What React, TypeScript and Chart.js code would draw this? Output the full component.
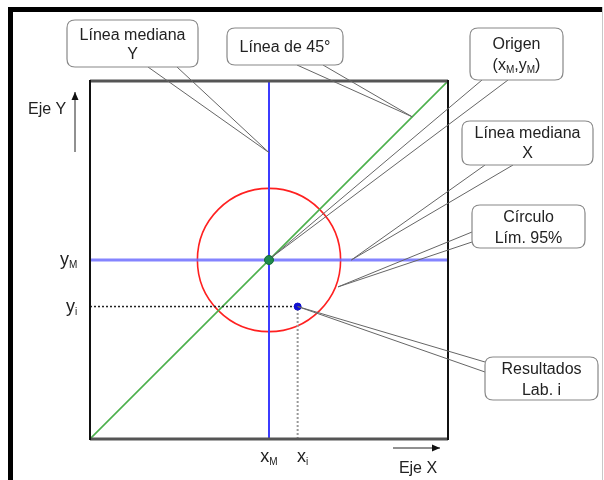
import React, { useEffect, useRef } from "react";
import { Chart, registerables } from "chart.js";

Chart.register(...registerables);

// ---- data (axis units 0..100) ----
const axisRange = [0, 100];
const diagonalX = [0, 100];
const diagonalY = [0, 100];
const medianX = 50; // x_M
const medianY = 50; // y_M
const labX = 58; // x_i
const labY = 37; // y_i
const circleRadius = 20; // 95% limit circle radius (axis units)

const FONT = '"Liberation Sans", Arial, sans-serif';

type Seg = [string, boolean];

function richWidth(ctx: CanvasRenderingContext2D, segs: Seg[], size: number, subSize: number) {
  let w = 0;
  for (const [t, sub] of segs) {
    ctx.font = `${sub ? subSize : size}px ${FONT}`;
    w += ctx.measureText(t).width;
  }
  return w;
}

function drawRich(
  ctx: CanvasRenderingContext2D,
  segs: Seg[],
  x: number,
  cy: number,
  align: "left" | "center",
  size = 16,
  subSize = 10
) {
  const w = richWidth(ctx, segs, size, subSize);
  let cx = align === "center" ? x - w / 2 : x;
  const base = cy + size * 0.36;
  ctx.textAlign = "left";
  ctx.textBaseline = "alphabetic";
  for (const [t, sub] of segs) {
    ctx.font = `${sub ? subSize : size}px ${FONT}`;
    ctx.fillText(t, cx, sub ? base + 3 : base);
    cx += ctx.measureText(t).width;
  }
}

type Callout = {
  lines: Seg[][];
  lineY: number[];
  box: [number, number, number, number];
  base: [number, number][];
  tip: { x: number; y: number };
};

const callouts: Callout[] = [
  {
    lines: [[["Línea mediana", false]], [["Y", false]]],
    lineY: [34, 53],
    box: [67, 20, 131, 47],
    base: [[148, 67], [177, 67]],
    tip: { x: medianX, y: 80 },
  },
  {
    lines: [[["Línea de 45°", false]]],
    lineY: [46],
    box: [227, 28, 116, 37],
    base: [[297, 65], [323, 65]],
    tip: { x: 90, y: 90 },
  },
  {
    lines: [
      [["Origen", false]],
      [["(x", false], ["M", true], [",y", false], ["M", true], [")", false]],
    ],
    lineY: [43, 64],
    box: [470, 28, 93, 52],
    base: [[482, 80], [508, 80]],
    tip: { x: medianX + 0.8, y: medianY + 0.8 },
  },
  {
    lines: [[["Línea mediana", false]], [["X", false]]],
    lineY: [132, 152],
    box: [462, 121, 131, 44],
    base: [[485, 165], [513, 165]],
    tip: { x: 73, y: medianY },
  },
  {
    lines: [[["Círculo", false]], [["Lím. 95%", false]]],
    lineY: [216, 237],
    box: [472, 205, 113, 43],
    base: [[472, 232], [472, 242]],
    tip: { x: 69.3, y: 42.5 },
  },
  {
    lines: [[["Resultados", false]], [["Lab. i", false]]],
    lineY: [368, 389],
    box: [485, 357, 113, 43],
    base: [[485, 362], [485, 372]],
    tip: { x: labX, y: labY },
  },
];

function roundRect(ctx: CanvasRenderingContext2D, x: number, y: number, w: number, h: number, r: number) {
  ctx.beginPath();
  ctx.moveTo(x + r, y);
  ctx.lineTo(x + w - r, y);
  ctx.quadraticCurveTo(x + w, y, x + w, y + r);
  ctx.lineTo(x + w, y + h - r);
  ctx.quadraticCurveTo(x + w, y + h, x + w - r, y + h);
  ctx.lineTo(x + r, y + h);
  ctx.quadraticCurveTo(x, y + h, x, y + h - r);
  ctx.lineTo(x, y + r);
  ctx.quadraticCurveTo(x, y, x + r, y);
  ctx.closePath();
}

function arrow(ctx: CanvasRenderingContext2D, x1: number, y1: number, x2: number, y2: number) {
  ctx.save();
  ctx.strokeStyle = "#222";
  ctx.fillStyle = "#111";
  ctx.lineWidth = 1;
  ctx.beginPath();
  ctx.moveTo(x1, y1);
  ctx.lineTo(x2, y2);
  ctx.stroke();
  const a = Math.atan2(y2 - y1, x2 - x1);
  const L = 8, W = 3.5;
  ctx.beginPath();
  ctx.moveTo(x2, y2);
  ctx.lineTo(x2 - L * Math.cos(a) + W * Math.sin(a), y2 - L * Math.sin(a) - W * Math.cos(a));
  ctx.lineTo(x2 - L * Math.cos(a) - W * Math.sin(a), y2 - L * Math.sin(a) + W * Math.cos(a));
  ctx.closePath();
  ctx.fill();
  ctx.restore();
}

const overlay = {
  id: "overlay",
  beforeDraw(chart: any) {
    const ctx: CanvasRenderingContext2D = chart.ctx;
    ctx.save();
    ctx.fillStyle = "#ffffff";
    ctx.fillRect(0, 0, chart.width, chart.height);
    // outer frame
    ctx.fillStyle = "#000";
    ctx.fillRect(8, 7, 595, 5);
    ctx.fillRect(8, 7, 5, 473);
    ctx.fillStyle = "#c8c8c8";
    ctx.fillRect(602, 7, 1, 473);
    ctx.restore();
  },
  beforeDatasetsDraw(chart: any) {
    const ctx: CanvasRenderingContext2D = chart.ctx;
    const xs = chart.scales.x, ys = chart.scales.y;
    const cx = xs.getPixelForValue(medianX);
    const cy = ys.getPixelForValue(medianY);
    const rx = xs.getPixelForValue(medianX + circleRadius) - cx;
    const ry = cy - ys.getPixelForValue(medianY + circleRadius);
    ctx.save();
    ctx.strokeStyle = "#ff2020";
    ctx.lineWidth = 1.6;
    ctx.beginPath();
    ctx.ellipse(cx, cy, rx, ry, 0, 0, Math.PI * 2);
    ctx.stroke();
    ctx.restore();
  },
  afterDatasetsDraw(chart: any) {
    const ctx: CanvasRenderingContext2D = chart.ctx;
    const xs = chart.scales.x, ys = chart.scales.y;
    const { left, right, top, bottom } = chart.chartArea;
    ctx.save();
    // plot border
    ctx.strokeStyle = "#555";
    ctx.lineWidth = 3;
    ctx.beginPath();
    ctx.moveTo(left, top);
    ctx.lineTo(right, top);
    ctx.moveTo(left, bottom);
    ctx.lineTo(right, bottom);
    ctx.stroke();
    ctx.strokeStyle = "#111";
    ctx.lineWidth = 2;
    ctx.beginPath();
    ctx.moveTo(left, top - 1);
    ctx.lineTo(left, bottom + 1);
    ctx.moveTo(right, top - 1);
    ctx.lineTo(right, bottom + 1);
    ctx.stroke();

    // axis labels
    ctx.fillStyle = "#222";
    drawRich(ctx, [["Eje Y", false]], 28, 108, "left");
    arrow(ctx, 75, 152, 75, 92);
    drawRich(ctx, [["y", false], ["M", true]], 60, ys.getPixelForValue(medianY) - 1, "left", 18, 10);
    drawRich(ctx, [["y", false], ["i", true]], 66, ys.getPixelForValue(labY) - 1, "left", 18, 10);
    drawRich(ctx, [["x", false], ["M", true]], xs.getPixelForValue(medianX), 456, "center", 18, 10);
    drawRich(ctx, [["x", false], ["i", true]], xs.getPixelForValue(labX) + 5, 456, "center", 18, 10);
    arrow(ctx, 393, 448, 440, 448);
    drawRich(ctx, [["Eje X", false]], 418, 467, "center");

    // callouts
    for (const c of callouts) {
      const tx = xs.getPixelForValue(c.tip.x);
      const ty = ys.getPixelForValue(c.tip.y);
      ctx.strokeStyle = "#666";
      ctx.lineWidth = 1;
      ctx.beginPath();
      for (const [bx, by] of c.base) {
        ctx.moveTo(bx, by);
        ctx.lineTo(tx, ty);
      }
      ctx.stroke();
      const [x, y, w, h] = c.box;
      ctx.fillStyle = "#fff";
      roundRect(ctx, x, y, w, h, 8);
      ctx.fill();
      ctx.strokeStyle = "#888";
      ctx.lineWidth = 1.2;
      ctx.stroke();
      ctx.fillStyle = "#222";
      c.lines.forEach((segs, i) => {
        drawRich(ctx, segs, x + w / 2, c.lineY[i], "center", 16, 10);
      });
    }
    ctx.restore();
  },
};

export default function App() {
  const ref = useRef<HTMLCanvasElement>(null);
  useEffect(() => {
    document.body.style.margin = "0";
    const pts = (xs: number[], ys: number[]) => xs.map((x, i) => ({ x, y: ys[i] }));
    const chart = new Chart(ref.current as HTMLCanvasElement, {
      type: "scatter",
      data: {
        datasets: [
          {
            label: "Resultados Lab. i",
            data: [{ x: labX, y: labY }],
            pointRadius: 3.5,
            backgroundColor: "#1010d0",
            borderColor: "#1010d0",
            order: 0,
          },
          {
            label: "Origen",
            data: [{ x: medianX, y: medianY }],
            pointRadius: 4.5,
            backgroundColor: "#1f8a4c",
            borderColor: "#146a36",
            borderWidth: 1,
            order: 1,
          },
          {
            label: "yi",
            data: [{ x: axisRange[0], y: labY }, { x: labX, y: labY }],
            showLine: true,
            pointRadius: 0,
            borderColor: "#222",
            borderWidth: 1.5,
            borderDash: [2, 2],
            order: 2,
          },
          {
            label: "xi",
            data: [{ x: labX, y: axisRange[0] }, { x: labX, y: labY }],
            showLine: true,
            pointRadius: 0,
            borderColor: "#999",
            borderWidth: 2,
            borderDash: [2, 2],
            order: 3,
          },
          {
            label: "Línea de 45°",
            data: pts(diagonalX, diagonalY),
            showLine: true,
            pointRadius: 0,
            borderColor: "#4cb04c",
            borderWidth: 1.6,
            order: 4,
          },
          {
            label: "Línea mediana Y",
            data: [{ x: medianX, y: axisRange[0] }, { x: medianX, y: axisRange[1] }],
            showLine: true,
            pointRadius: 0,
            borderColor: "#3c3cff",
            borderWidth: 2,
            order: 5,
          },
          {
            label: "Línea mediana X",
            data: [{ x: axisRange[0], y: medianY }, { x: axisRange[1], y: medianY }],
            showLine: true,
            pointRadius: 0,
            borderColor: "rgba(110,110,255,0.85)",
            borderWidth: 3,
            order: 6,
          },
        ],
      },
      options: {
        responsive: false,
        animation: false,
        devicePixelRatio: 1,
        layout: { padding: { left: 90, top: 81, right: 156, bottom: 41 } },
        scales: {
          x: { type: "linear", min: axisRange[0], max: axisRange[1], display: false },
          y: { type: "linear", min: axisRange[0], max: axisRange[1], display: false },
        },
        plugins: { legend: { display: false }, tooltip: { enabled: false } },
        events: [],
      },
      plugins: [overlay],
    } as any);
    return () => chart.destroy();
  }, []);
  return (
    <div style={{ position: "fixed", left: 0, top: 0, width: 604, height: 480 }}>
      <canvas ref={ref} width={604} height={480} style={{ display: "block" }} />
    </div>
  );
}
